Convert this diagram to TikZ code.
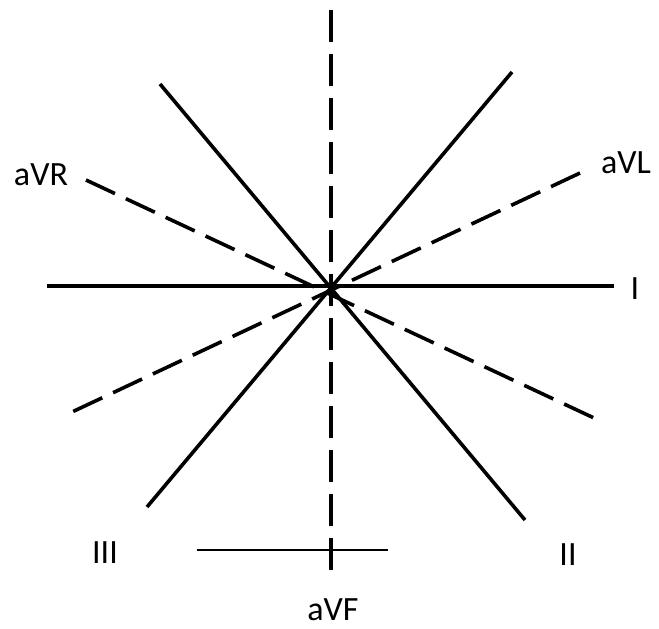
\documentclass[tikz,border=0pt]{standalone}
\usepackage{fontspec}
\setmainfont{Carlito}
\begin{document}
\begin{tikzpicture}[x=0.75pt,y=-0.75pt,
  lead/.style={line width=2.7pt},
  auglead/.style={line width=2.7pt,dash pattern=on 24pt off 9pt},
  vfaxis/.style={line width=3.6pt,dash pattern=on 24pt off 9pt},
  tick/.style={line width=1.3pt},
  lbl/.style={anchor=base,inner sep=0pt,font=\fontsize{25.5}{30}\selectfont}]
  \useasboundingbox (0,0) rectangle (659,628);
  % end points of the axes
  \coordinate (Ia) at (47,286);
  \coordinate (Ib) at (614,286);
  \coordinate (IIa) at (160,84);
  \coordinate (IIb) at (525,520);
  \coordinate (IIIa) at (147,507);
  \coordinate (IIIb) at (512,72);
  \coordinate (VRa) at (86,180);
  \coordinate (VRb) at (594,418);
  \coordinate (VLa) at (72,412);
  \coordinate (VLb) at (580,173);
  \coordinate (VFa) at (331,10);
  \coordinate (VFb) at (331,570);
  \coordinate (ta) at (197,550);
  \coordinate (tb) at (388,550);
  % axes
  \draw[lead] (Ia) -- (Ib);
  \draw[lead] (IIa) -- (IIb);
  \draw[lead] (IIIa) -- (IIIb);
  \draw[auglead] (VRa) -- (VRb);
  \draw[auglead] (VLb) -- (VLa);
  \draw[vfaxis] (VFa) -- (VFb);
  \draw[tick] (ta) -- (tb);
  % labels
  \node[lbl] (lI) at (635,299) {I};
  \node[lbl] (lII) at (568,565) {II};
  \node[lbl] (lIII) at (105,563) {III};
  \node[lbl] (lVR) at (41,185) {aVR};
  \node[lbl] (lVL) at (626,173) {aVL};
  \node[lbl] (lVF) at (333,620) {aVF};
\end{tikzpicture}
\end{document}
